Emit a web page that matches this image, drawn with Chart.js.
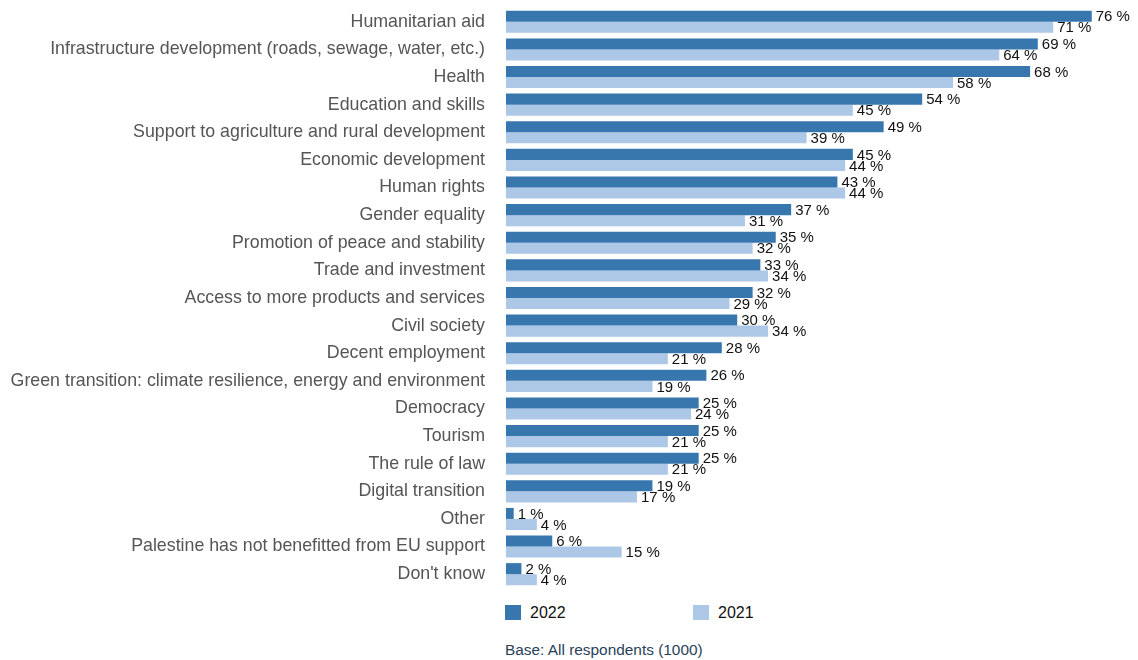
<!DOCTYPE html>
<html>
<head>
<meta charset="utf-8">
<script src="https://cdn.jsdelivr.net/npm/chart.js@4.4.1/dist/chart.umd.min.js"></script>
<style>
  html, body { margin: 0; padding: 0; background: #fff; }
  body { width: 1138px; height: 660px; position: relative; font-family: "Liberation Sans", Arial, sans-serif; }
  #wrap { position: absolute; left: 0; top: 0; width: 1138px; height: 592px; }
  #legend { position: absolute; left: 505px; top: 605px; height: 16px; }
  .item { position: absolute; top: 0; white-space: nowrap; font-size: 16px; color: #111; line-height: 16px; }
  .item span.box { position: absolute; left: 0; top: 0; width: 16px; height: 15px; }
  .item span.txt { position: absolute; left: 25px; top: 0; }
  #base { position: absolute; left: 505px; top: 641px; font-size: 15.4px; color: #2a3f5a; }
</style>
</head>
<body>
<div id="wrap"><canvas id="myBarChart"></canvas></div>
<div id="legend"></div>
<div id="base">Base: All respondents (1000)</div>
<script>
var categories = [
  'Humanitarian aid',
  'Infrastructure development (roads, sewage, water, etc.)',
  'Health',
  'Education and skills',
  'Support to agriculture and rural development',
  'Economic development',
  'Human rights',
  'Gender equality',
  'Promotion of peace and stability',
  'Trade and investment',
  'Access to more products and services',
  'Civil society',
  'Decent employment',
  'Green transition: climate resilience, energy and environment',
  'Democracy',
  'Tourism',
  'The rule of law',
  'Digital transition',
  'Other',
  'Palestine has not benefitted from EU support',
  "Don't know"
];
var values2022 = [76, 69, 68, 54, 49, 45, 43, 37, 35, 33, 32, 30, 28, 26, 25, 25, 25, 19, 1, 6, 2];
var values2021 = [71, 64, 58, 45, 39, 44, 44, 31, 32, 34, 29, 34, 21, 19, 24, 21, 21, 17, 4, 15, 4];
var seriesNames = ['2022', '2021'];

var darkBlue = '#3777ae';
var lightBlue = '#adc7e7';

// value labels at the end of every bar
var valueLabels = {
  id: 'valueLabels',
  afterDatasetsDraw: function (chart) {
    var ctx = chart.ctx;
    ctx.save();
    ctx.font = '15px "Liberation Sans", Arial, sans-serif';
    ctx.fillStyle = '#111';
    ctx.textAlign = 'left';
    ctx.textBaseline = 'middle';
    chart.data.datasets.forEach(function (ds, i) {
      chart.getDatasetMeta(i).data.forEach(function (bar, j) {
        ctx.fillText(ds.data[j] + ' %', bar.x + 4, bar.y + 1);
      });
    });
    ctx.restore();
  }
};

document.addEventListener('DOMContentLoaded', function () {
  var ctx = document.getElementById('myBarChart').getContext('2d');

  var myBarChart = new Chart(ctx, {
    type: 'bar',
    data: {
      labels: categories,
      datasets: [{
        label: seriesNames[0],
        data: values2022,
        backgroundColor: darkBlue,
        borderWidth: 0
      }, {
        label: seriesNames[1],
        data: values2021,
        backgroundColor: lightBlue,
        borderWidth: 0
      }]
    },
    options: {
      indexAxis: 'y',
      responsive: true,
      maintainAspectRatio: false,
      animation: false,
      datasets: {
        bar: {
          categoryPercentage: 0.8,
          barPercentage: 1.0
        }
      },
      layout: {
        padding: { top: 8, bottom: 4, left: 0, right: 0 }
      },
      plugins: {
        legend: { display: false },
        tooltip: { enabled: false }
      },
      scales: {
        x: {
          display: false,
          min: 0,
          max: 82
        },
        y: {
          grid: { display: false, drawTicks: false },
          border: { display: false },
          afterFit: function (scale) {
            // fixed label column, no extra padding above/below the rows
            scale.width = 506;
            scale.paddingTop = 0;
            scale.paddingBottom = 0;
          },
          ticks: {
            padding: 21,
            color: '#555',
            font: { family: '"Liberation Sans", Arial, sans-serif', size: 17.8 }
          }
        }
      }
    },
    plugins: [valueLabels]
  });

  // legend built from the datasets
  var legend = document.getElementById('legend');
  var offsets = [0, 188];
  myBarChart.data.datasets.forEach(function (ds, i) {
    var item = document.createElement('div');
    item.className = 'item';
    item.style.left = offsets[i] + 'px';
    item.innerHTML = '<span class="box" style="background:' + ds.backgroundColor + '"></span><span class="txt">' + ds.label + '</span>';
    legend.appendChild(item);
  });
});
</script>
</body>
</html>
